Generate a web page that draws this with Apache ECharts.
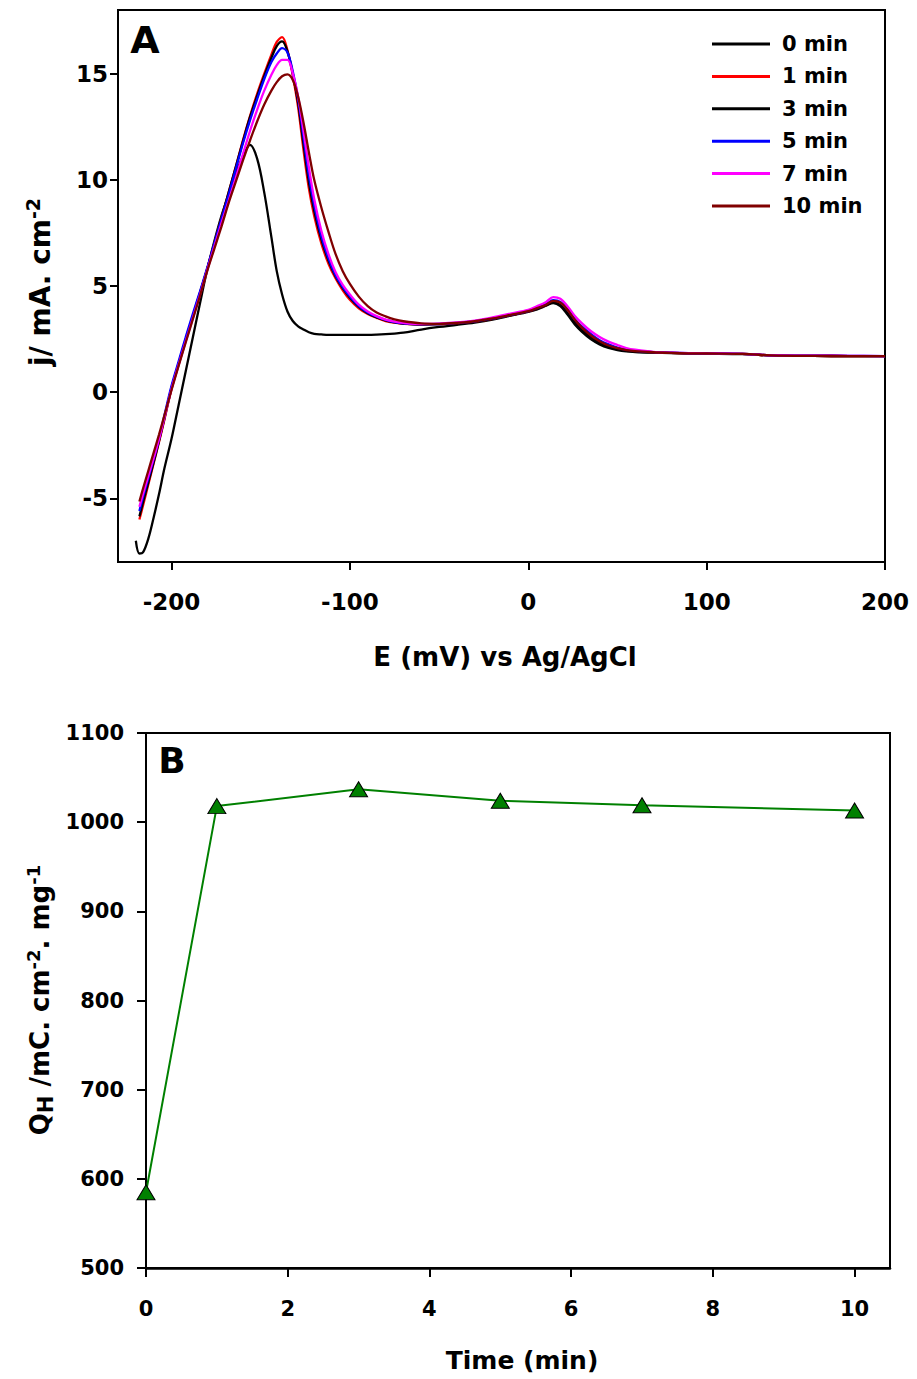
<!DOCTYPE html>
<html><head><meta charset="utf-8">
<script src="https://cdn.jsdelivr.net/npm/echarts@6/dist/echarts.min.js"></script>
<style>html,body{margin:0;padding:0;background:#fff}#c{width:917px;height:1379px}</style>
</head><body><div id="c"></div>
<script>
// ---------- Panel A data ----------
const potentials = [-220,-218,-216,-213,-210,-207,-204,-200,-196,-192,
  -188,-184,-180,-176,-172,-168,-164,-160,-156,-152,
  -148,-144,-141,-138,-135,-132,-129,-126,-123,-120,
  -116,-112,-108,-104,-100,-95,-90,-85,-80,-75,
  -70,-60,-50,-40,-30,-20,-10,0,5,10,
  14,18,22,26,30,35,40,45,50,55,
  60,70,80,90,100,120,140,160,180,200];

const j0min = [-7.0,-7.6,-7.55,-6.9,-5.9,-4.8,-3.6,-2.2,-0.6,1.0,
  2.6,4.2,5.76,7.1,8.3,9.3,10.3,11.1,11.65,11.0,
  9.4,7.3,5.7,4.6,3.8,3.35,3.1,2.95,2.82,2.75,
  2.72,2.7,2.7,2.7,2.7,2.7,2.7,2.71,2.73,2.76,
  2.8,2.95,3.07,3.17,3.28,3.42,3.6,3.78,3.9,4.07,
  4.2,4.05,3.65,3.2,2.85,2.5,2.25,2.08,1.98,1.92,
  1.89,1.86,1.84,1.82,1.81,1.79,1.72,1.71,1.7,1.7];

const j1min = [null,-6.0,-5.35,-4.35,-3.35,-2.35,-1.3,0.15,1.3,2.45,
  3.55,4.65,5.8,7.0,8.2,9.4,10.6,11.85,13.0,14.05,
  15.0,15.9,16.5,16.72,16.1,14.9,13.4,11.4,9.6,8.3,
  7.0,6.05,5.35,4.8,4.35,3.95,3.68,3.5,3.35,3.27,
  3.22,3.18,3.2,3.25,3.32,3.45,3.62,3.8,3.94,4.1,
  4.25,4.15,3.8,3.35,3.0,2.65,2.4,2.2,2.06,1.98,
  1.93,1.88,1.85,1.83,1.82,1.8,1.72,1.71,1.7,1.7];

const j3min = [null,-5.85,-5.2,-4.25,-3.3,-2.3,-1.25,0.2,1.35,2.5,
  3.6,4.7,5.8,7.0,8.2,9.4,10.6,11.8,12.95,13.95,
  14.9,15.75,16.3,16.52,16.05,15.0,13.6,11.7,9.9,8.55,
  7.2,6.2,5.45,4.9,4.45,4.02,3.72,3.52,3.38,3.29,
  3.23,3.18,3.2,3.25,3.32,3.45,3.62,3.8,3.93,4.1,
  4.22,4.1,3.72,3.28,2.92,2.58,2.32,2.13,2.02,1.95,
  1.91,1.87,1.85,1.83,1.82,1.8,1.72,1.71,1.7,1.7];

const j5min = [null,-5.6,-4.95,-4.05,-3.15,-2.2,-1.1,0.3,1.45,2.6,
  3.7,4.75,5.85,7.0,8.15,9.3,10.5,11.7,12.8,13.8,
  14.75,15.55,15.95,16.2,16.0,15.1,13.8,12.0,10.2,8.8,
  7.35,6.3,5.5,4.95,4.5,4.05,3.75,3.55,3.4,3.3,
  3.24,3.2,3.21,3.26,3.34,3.47,3.64,3.82,3.97,4.15,
  4.33,4.25,3.9,3.45,3.1,2.75,2.45,2.25,2.1,2.0,
  1.95,1.89,1.86,1.84,1.83,1.8,1.73,1.72,1.71,1.7];

const j7min = [null,-5.4,-4.8,-3.95,-3.1,-2.2,-1.2,0.15,1.3,2.4,
  3.5,4.6,5.75,6.85,7.95,9.0,10.1,11.2,12.3,13.3,
  14.2,14.95,15.4,15.65,15.65,15.0,13.9,12.3,10.6,9.1,
  7.6,6.5,5.65,5.05,4.6,4.12,3.8,3.58,3.42,3.32,
  3.26,3.21,3.23,3.28,3.37,3.52,3.7,3.88,4.05,4.25,
  4.48,4.4,4.05,3.6,3.25,2.88,2.6,2.38,2.22,2.08,
  2.0,1.9,1.86,1.84,1.83,1.8,1.73,1.72,1.71,1.7];

const j10min = [null,-5.15,-4.55,-3.7,-2.85,-2.0,-1.1,0.1,1.25,2.35,
  3.45,4.55,5.7,6.75,7.8,8.9,9.9,10.9,11.85,12.75,
  13.55,14.2,14.6,14.88,14.97,14.7,13.9,12.7,11.3,10.0,
  8.7,7.55,6.5,5.7,5.1,4.5,4.05,3.75,3.57,3.43,
  3.34,3.24,3.22,3.26,3.34,3.47,3.64,3.82,3.96,4.12,
  4.3,4.22,3.88,3.42,3.05,2.68,2.4,2.2,2.07,1.98,
  1.93,1.88,1.85,1.83,1.82,1.8,1.72,1.71,1.7,1.7];

const seriesNames = ['0 min','1 min','3 min','5 min','7 min','10 min'];
const seriesColors = ['#000000','#ff0000','#000000','#0000ff','#ff00ff','#800000'];
const seriesValues = [j0min, j1min, j3min, j5min, j7min, j10min];
const xTicksA = [-200,-100,0,100,200];
const yTicksA = [-5,0,5,10,15];

// ---------- Panel B data ----------
const times = [0,1,3,5,7,10];
const qh = [585,1018,1037,1024,1019,1013];
const xTicksB = [0,2,4,6,8,10];

const FF = 'DejaVu Sans, Liberation Sans, sans-serif';
const tickFontA = {fontFamily: FF, fontWeight: 'bold', fontSize: 23, color: '#000'};
const tickFontB = {fontFamily: FF, fontWeight: 'bold', fontSize: 21, color: '#000'};

const seriesA = seriesValues.map((vals, k) => ({
  name: seriesNames[k],
  type: 'line',
  xAxisIndex: 0, yAxisIndex: 0,
  data: potentials.map((e, i) => [e, vals[i]]).filter(p => p[1] !== null),
  showSymbol: false, symbol: 'none',
  smooth: 0.35,
  lineStyle: {color: seriesColors[k], width: 2.3},
  itemStyle: {color: seriesColors[k]},
  z: 3 + k
}));

const seriesB = {
  name: 'QH', type: 'line', xAxisIndex: 1, yAxisIndex: 1,
  data: times.map((t, i) => [t, qh[i]]),
  symbol: 'triangle', symbolSize: [18, 15],
  lineStyle: {color: '#008000', width: 2},
  itemStyle: {color: '#008000', borderColor: '#000', borderWidth: 1},
  z: 5
};

const plain = v => String(v);

const chart = echarts.init(document.getElementById('c'), null, {renderer: 'svg'});
chart.setOption({
  animation: false,
  backgroundColor: '#fff',
  grid: [
    {left: 118, top: 10, width: 767, height: 552, show: true, borderColor: '#000', borderWidth: 2, backgroundColor: 'transparent'},
    {left: 146, top: 733, width: 744, height: 535, show: true, borderColor: '#000', borderWidth: 2, backgroundColor: 'transparent'}
  ],
  xAxis: [
    {type: 'value', gridIndex: 0, min: -230, max: 200,
     axisLine: {show: true, onZero: false, lineStyle: {color: '#000', width: 2}},
     axisTick: {show: true, length: 8, lineStyle: {color: '#000', width: 2}, customValues: xTicksA},
     axisLabel: Object.assign({margin: 28, customValues: xTicksA, formatter: plain}, tickFontA),
     splitLine: {show: false}},
    {type: 'value', gridIndex: 1, min: 0, max: 10.5,
     axisLine: {show: true, onZero: false, lineStyle: {color: '#000', width: 2.5}},
     axisTick: {show: true, length: 9, lineStyle: {color: '#000', width: 2}, customValues: xTicksB},
     axisLabel: Object.assign({margin: 30, customValues: xTicksB, formatter: plain}, tickFontB),
     splitLine: {show: false}}
  ],
  yAxis: [
    {type: 'value', gridIndex: 0, min: -8, max: 18,
     axisLine: {show: true, onZero: false, lineStyle: {color: '#000', width: 2}},
     axisTick: {show: true, length: 8, lineStyle: {color: '#000', width: 2}, customValues: yTicksA},
     axisLabel: Object.assign({margin: 10, customValues: yTicksA, formatter: plain}, tickFontA),
     splitLine: {show: false}},
    {type: 'value', gridIndex: 1, min: 500, max: 1100, interval: 100,
     axisLine: {show: true, onZero: false, lineStyle: {color: '#000', width: 2}},
     axisTick: {show: true, length: 9, lineStyle: {color: '#000', width: 2}},
     axisLabel: Object.assign({margin: 22, formatter: plain}, tickFontB),
     splitLine: {show: false}}
  ],
  legend: {
    show: true, orient: 'vertical', left: 712, top: 33, padding: 0,
    itemWidth: 58, itemHeight: 3, itemGap: 10.4, icon: 'rect',
    selectedMode: false,
    data: seriesNames.map((n, k) => ({name: n, itemStyle: {color: seriesColors[k]}})),
    textStyle: {fontFamily: FF, fontWeight: 'bold', fontSize: 21, lineHeight: 22, color: '#000', padding: [0, 0, 0, 7]}
  },
  graphic: [
    {type: 'text', x: 145, y: 40, style: {text: 'A', font: 'bold 38px ' + FF, fill: '#000', align: 'center', verticalAlign: 'middle'}},
    {type: 'text', x: 172, y: 760, style: {text: 'B', font: 'bold 36px ' + FF, fill: '#000', align: 'center', verticalAlign: 'middle'}},
    {type: 'text', x: 505, y: 657, style: {text: 'E (mV) vs Ag/AgCl', font: 'bold 26px ' + FF, fill: '#000', align: 'center', verticalAlign: 'middle'}},
    {type: 'text', x: 522, y: 1360, style: {text: 'Time (min)', font: 'bold 25px ' + FF, fill: '#000', align: 'center', verticalAlign: 'middle'}},
    {type: 'text', x: 40, y: 282, rotation: Math.PI / 2,
     style: {text: '{a|j/ mA. cm}{s|-2}', align: 'center', verticalAlign: 'middle',
       rich: {a: {fontFamily: FF, fontWeight: 'bold', fontSize: 28, lineHeight: 34, fill: '#000', verticalAlign: 'middle'},
              s: {fontFamily: FF, fontWeight: 'bold', fontSize: 19, lineHeight: 19, fill: '#000', verticalAlign: 'top'}}}},
    {type: 'text', x: 40, y: 1000, rotation: Math.PI / 2,
     style: {text: '{a|Q}{b|H}{a| /mC. cm}{s|-2}{a|. mg}{s|-1}', align: 'center', verticalAlign: 'middle',
       rich: {a: {fontFamily: FF, fontWeight: 'bold', fontSize: 26, lineHeight: 32, fill: '#000', verticalAlign: 'middle'},
              b: {fontFamily: FF, fontWeight: 'bold', fontSize: 21, lineHeight: 21, fill: '#000', verticalAlign: 'bottom'},
              s: {fontFamily: FF, fontWeight: 'bold', fontSize: 18, lineHeight: 18, fill: '#000', verticalAlign: 'top'}}}}
  ],
  series: seriesA.concat([seriesB])
});
</script>
</body></html>
